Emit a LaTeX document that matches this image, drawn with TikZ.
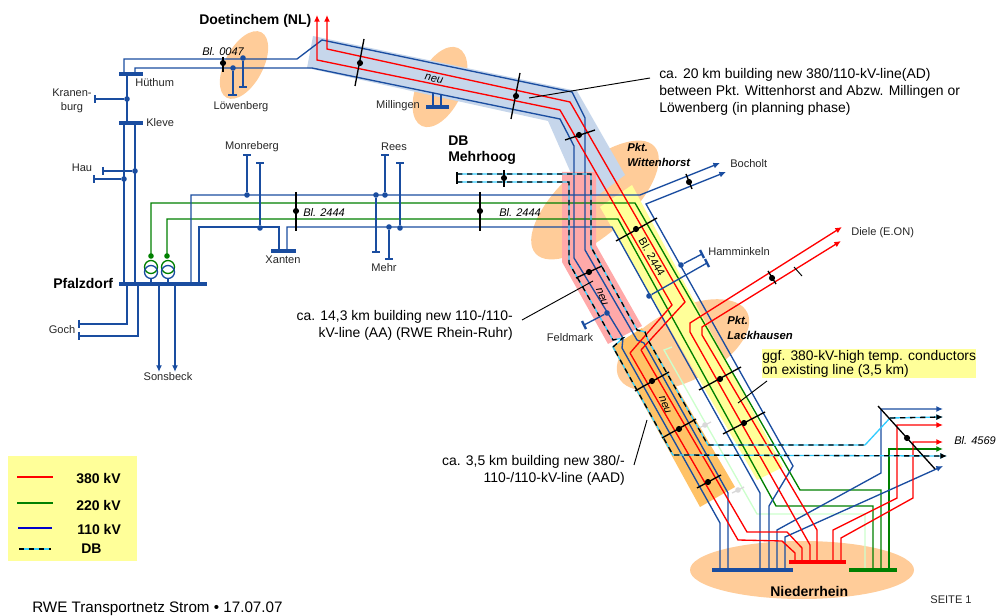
\documentclass[tikz,border=0pt]{standalone}
\usepackage{fontspec}
\setmainfont{Liberation Sans}
\usetikzlibrary{arrows.meta, positioning, shapes.geometric}
\definecolor{rweBlue}{HTML}{1A4DA0}
\definecolor{rweRed}{HTML}{FF0000}
\definecolor{rweGreen}{HTML}{008000}
\definecolor{rweLight}{HTML}{CCFFCC}
\definecolor{rweCyan}{HTML}{33CCFF}
\definecolor{bandBlue}{HTML}{C6D6EB}
\definecolor{bandPink}{HTML}{FFA9A9}
\definecolor{bandOrange}{HTML}{FFC266}
\definecolor{bandYellow}{HTML}{FFFF99}
\definecolor{blobOrange}{HTML}{FFCC99}
\tikzset{
  blob/.style={ellipse, fill=blobOrange, inner sep=0pt},
  lbl/.style={inner sep=0pt, text=black!85, font=\fontsize{8.3}{10}\selectfont},
  blk/.style={inner sep=0pt, align=left, font=\fontsize{10.45}{12.8}\selectfont},
  blkr/.style={inner sep=0pt, align=right, font=\fontsize{10.45}{12.8}\selectfont},
  head/.style={inner sep=0pt, align=left, font=\fontsize{10.5}{13}\selectfont\bfseries},
  pkt/.style={inner sep=0pt, align=left, font=\fontsize{8.5}{11.2}\selectfont\bfseries\itshape},
  blname/.style={inner sep=0pt, font=\fontsize{8.3}{10}\selectfont\itshape},
  kv380/.style={draw=rweRed, line width=1pt},
  kv220/.style={draw=rweGreen, line width=1pt},
  kv110/.style={draw=rweBlue, line width=1pt},
  kvold/.style={draw=rweLight, line width=1pt},
  kvdb/.style={draw=rweCyan, line width=1pt, postaction={draw=black, dash pattern=on 4pt off 3.5pt}},
  tip/.style={-{Latex[length=5pt,width=4.5pt]}},
  tbar/.style={draw=rweBlue, line width=1.7pt},
  bus/.style={line width=2.4pt},
  jnt/.style={circle, fill=#1, inner sep=0pt, minimum size=4.2pt},
  crossln/.style={draw=black, line width=1pt},
  leader/.style={draw=black, line width=.7pt},
}
\begin{document}
\begin{tikzpicture}[x=0.75pt, y=-0.75pt]
    \useasboundingbox (0,0) rectangle (996,616);
    \node[blob, minimum width=55.5pt, minimum height=28.5pt, rotate=62] (blobLoewenberg) at (244,65) {};
    \node[blob, minimum width=64.5pt, minimum height=34pt, rotate=65] (blobMillingen) at (440,87) {};
    \node[blob, minimum width=120pt, minimum height=52pt, rotate=42] (blobWittenhorst) at (595,200) {};
    \node[blob, minimum width=108pt, minimum height=54pt, rotate=27] (blobLackhausen) at (683,345) {};
    \node[blob, minimum width=168pt, minimum height=43.5pt] (blobNiederrhein) at (802,570) {};
    \fill[bandBlue] (313,36) -- (577,91) -- (625,175) -- (585,205) -- (548,121) -- (307,68) -- cycle;
    \fill[bandPink] (562,172) -- (596,172) -- (596,245) -- (642,326) -- (608,344) -- (562,262) -- cycle;
    \fill[bandYellow] (600,207) -- (632,185) -- (783,467) -- (757,480) -- cycle;
    \fill[bandOrange] (612,347) -- (642,328) -- (735,487) -- (700,507) -- cycle;
    \fill[bandYellow] (8,456) rectangle (137,561);
    \fill[bandYellow] (762,349) rectangle (976,378);

    \draw[kvold] (672,347) -- (664,350) -- (757,514) -- (865,514) -- (865,570);
    \foreach \gx/\gy in {705/425, 738/490} {
      \draw[black!15, line width=1pt] (\gx-6,\gy+3) -- (\gx+6,\gy-3);
      \node[jnt=black!15] (grey\gx) at (\gx,\gy) {};
    }

    \draw[kv220] (151,256) -- (151,203) -- (635,203) -- (800,490) -- (881,490) -- (881,570);
    \draw[kv220] (167,256) -- (167,219) -- (618,219) -- (776,506) -- (873,506) -- (873,570);
    \draw[kv220, tip] (889,570) -- (889,449) -- (943,449);

    \draw[kv110] (124,284) -- (124,123);
    \draw[kv110] (135,284) -- (135,123);
    \draw[kv110] (127,123) -- (127,74);
    \draw[kv110] (124,74) -- (124,59) -- (297,59) -- (322,40) -- (572,92) -- (585,118) -- (585,250) -- (637,340) -- (644,343) -- (728,493) -- (728,570);
    \draw[kv110] (135,74) -- (135,68) -- (312,68) -- (560,119) -- (574,146) -- (574,258) -- (623,338) -- (622,348) -- (720,523) -- (720,570);
    \draw[kv110, tip] (191,284) -- (191,195) -- (640,195) -- (720,163);
    \draw[kv110] (199,284) -- (199,227) -- (279,227) -- (279,251);
    \draw[kv110] (287,251) -- (287,227) -- (612,227) -- (760,493) -- (760,570);
    \draw[kv110, tip] (769,570) -- (769,506) -- (793,466) -- (646,204) -- (726,172);
    \draw[kv110, tip] (777,570) -- (777,530) -- (881,473) -- (881,409) -- (943,409);
    \draw[kv110, tip] (785,570) -- (785,537) -- (943,466);
    \draw[kv110] (127,284) -- (127,324) -- (79,324);
    \draw[kv110] (138,284) -- (138,336) -- (79,336);
    \draw[kv110, tip] (159,284) -- (159,372);
    \draw[kv110, tip] (175,284) -- (175,372);
    \draw[kv110] (433,93) -- (433,107);
    \draw[kv110] (441,95) -- (441,107);

    \draw[kv380, tip] (630,353) -- (672,305) -- (560,110) -- (317,60) -- (317,15);
    \draw[kv380, tip] (641,350) -- (685,302) -- (570,102) -- (327,49) -- (327,15);
    \draw[kv380] (630,353) -- (738,540) -- (782,541) -- (795,553) -- (795,562);
    \draw[kv380] (641,350) -- (747,532) -- (787,532) -- (802,548) -- (802,562);
    \draw[kv380, tip] (810,562) -- (810,545) -- (690,332) -- (690,323) -- (842,227);
    \draw[kv380, tip] (817,562) -- (817,530) -- (702,335) -- (702,327) -- (841,241);
    \draw[kv380, tip] (833,562) -- (833,530) -- (897,498) -- (897,425) -- (943,425);
    \draw[kv380, tip] (841,562) -- (841,538) -- (913,498) -- (913,442) -- (943,442);

    \draw[kvdb] (457,174) -- (591,174) -- (591,247) -- (637,330) -- (645,332) -- (648,340) -- (708,445) -- (865,445);
    \draw[draw=rweCyan, line width=1pt] (865,445) -- (890,418);
    \draw[kvdb, tip] (890,418) -- (943,417);
    \draw[kvdb, tip] (457,182) -- (569,182) -- (569,263) -- (613,340) -- (623,338) -- (613,347) -- (673,455) -- (947,456);
    \draw[draw=black, line width=1pt] (457,172) -- (457,184);

    \draw[rweBlue, bus] (119,74) -- (143,74);
    \draw[rweBlue, bus] (119,123) -- (143,123);
    \draw[rweBlue, bus] (119,284) -- (207,284);
    \draw[rweBlue, bus] (271,251) -- (296,251);
    \draw[rweBlue, bus] (426,107) -- (449,107);
    \draw[rweBlue, bus] (712,570) -- (793,570);
    \draw[rweRed, bus] (789,562) -- (846,562);
    \draw[rweGreen, bus] (849,570) -- (897,570);

    \foreach \nm/\dx/\dy/\ex/\ey/\ax/\ay/\bx/\by in {
      kranenburg/127/99/95/99/95/95/95/103,
      haua/135/171/103/171/103/167/103/175,
      haub/124/179/94/179/94/175/94/183,
      loewa/243/58/243/87/239/87/247/87,
      loewb/233/68/233/95/228/95/237/95,
      monra/247/195/247/155/243/155/251/155,
      monrb/260/228/260/163/256/163/264/163,
      reesa/385/195/385/155/381/155/389/155,
      reesb/400/228/400/163/396/163/404/163,
      mehra/376/195/376/252/372/252/380/252,
      mehrb/389/227/389/259/385/259/393/259,
      hammina/681/265/702/254/700/250/704/258,
      hamminb/649/296/707/263/705/259/709/267,
      feldmark/607/313/584/325/582/321/586/329} {
      \node[jnt=rweBlue] (\nm) at (\dx,\dy) {};
      \coordinate (\nm end) at (\ex,\ey);
      \draw[kv110] (\nm) -- (\nm end);
      \draw[tbar] (\ax,\ay) -- (\bx,\by);
    }
    \draw[tbar] (79,320) -- (79,328);
    \draw[tbar] (79,332) -- (79,340);
    \node[jnt=rweGreen] (trafoA) at (151,256) {};
    \node[jnt=rweGreen] (trafoB) at (167,256) {};
    \foreach \tx in {151,168} {
      \draw[rweGreen, line width=1pt] (\tx,267) circle (6.5);
      \draw[rweBlue, line width=1pt] (\tx,272) circle (6.5);
      \draw[kv110] (\tx,278) -- (\tx,284);
    }

    \foreach \nm/\xa/\ya/\xb/\yb/\xd/\yd in {
      blA/223/57/223/72/223/63,
      blB/296/192/296/231/296/211,
      blC/480/192/480/231/480/211,
      neuA/364/39/355/86/360/63,
      neuB/520/73/511/119/516/96,
      neuC/565/140/595/130/579/135,
      mehrhoog/504/170/504/187/504/178,
      wittA/616/241/657/218/636/229,
      bochA/686/174/692/189/689/182,
      rrA/576/278/602/266/589/272,
      aadA/635/391/669/372/652/381,
      aadB/662/438/696/419/679/429,
      aadC/697/488/721/475/708/482,
      lackA/699/390/741/367/720/379,
      lackB/723/434/765/412/744/423,
      dieleA/768/271/776/284/772/278,
      blD/878/406/935/469/907/438} {
      \draw[crossln] (\xa,\ya) -- (\xb,\yb);
      \node[jnt=black, minimum size=4.6pt] (cross\nm) at (\xd,\yd) {};
    }
    \draw[leader] (794,267) -- (802,276);
    \draw[leader] (529,98) -- (650,78);
    \draw[leader] (522,320) -- (593,281);
    \draw[leader] (634,465) -- (647,420);
    \draw[leader] (738,403) -- (767,381);

    \draw[rweRed, line width=1pt] (17,477) -- (53,477);
    \draw[rweGreen, line width=1pt] (17,503) -- (53,503);
    \draw[draw=blue!80!black, line width=1pt] (18,528) -- (52,528);
    \draw[kvdb] (19,549) -- (51,549);

    \node[head, anchor=west] (tDoetinchem) at (199,21) {Doetinchem (NL)};
    \node[head, anchor=west] (tDb) at (448,141) {DB};
    \node[head, anchor=west] (tMehrhoog) at (448,158) {Mehrhoog};
    \node[head, anchor=west] (tPfalzdorf) at (53,283) {Pfalzdorf};
    \node[head, anchor=west] (tNiederrhein) at (770,591) {Niederrhein};
    \node[head, anchor=west] (t380) at (76,479) {380 kV};
    \node[head, anchor=west] (t220) at (76,505) {220 kV};
    \node[head, anchor=west] (t110) at (77,529) {110 kV};
    \node[head, anchor=west] (tDbLegend) at (81,549) {DB};

    \node[lbl, anchor=west] (tHuethum) at (135,83) {Hüthum};
    \node[lbl, anchor=west] (tKleve) at (146,123) {Kleve};
    \node[lbl, align=center] (tKranenburg) at (72,101) {Kranen-\\burg};
    \node[lbl] (tHau) at (82,168) {Hau};
    \node[lbl] (tLoewenberg) at (241,107) {Löwenberg};
    \node[lbl] (tMonreberg) at (252,147) {Monreberg};
    \node[lbl] (tRees) at (394,147) {Rees};
    \node[lbl] (tMillingen) at (398,106) {Millingen};
    \node[lbl] (tXanten) at (283,260) {Xanten};
    \node[lbl] (tMehr) at (384,268) {Mehr};
    \node[lbl] (tGoch) at (62,330) {Goch};
    \node[lbl] (tSonsbeck) at (168,377) {Sonsbeck};
    \node[lbl] (tFeldmark) at (570,338) {Feldmark};
    \node[lbl, anchor=west] (tBocholt) at (730,164) {Bocholt};
    \node[lbl, anchor=west] (tHamminkeln) at (708,252) {Hamminkeln};
    \node[lbl, anchor=west] (tDiele) at (851,233) {Diele (E.ON)};
    \node[lbl] (tSeite) at (951,600) {SEITE 1};

    \node[pkt, anchor=west] (tWittenhorst) at (627,155) {Pkt.\\Wittenhorst};
    \node[pkt, anchor=west] (tLackhausen) at (727,328) {Pkt.\\Lackhausen};

    \node[blname, anchor=west] (tBlA) at (202,52) {Bl. 0047};
    \node[blname, anchor=west] (tBlB) at (303,212) {Bl. 2444};
    \node[blname, anchor=west] (tBlC) at (499,212) {Bl. 2444};
    \node[blname, anchor=west] (tBlD) at (954,441) {Bl. 4569};
    \node[blname, rotate=-60, font=\fontsize{8.3}{10}\selectfont] (tBlE) at (652,257) {Bl. 2444};
    \node[blname, rotate=-12] (tNeuA) at (434,79) {neu};
    \node[blname, rotate=-68] (tNeuB) at (602,297) {neu};
    \node[blname, rotate=-68] (tNeuC) at (665,405) {neu};

    \node[blk, anchor=north west] (tAd) at (659,68) {ca. 20 km building new 380/110-kV-line(AD)\\between Pkt. Wittenhorst and Abzw. Millingen or\\Löwenberg (in planning phase)};
    \node[blkr, anchor=east] (tAa) at (513,325) {ca. 14,3 km building new 110-/110-\\kV-line (AA) (RWE Rhein-Ruhr)};
    \node[blkr, anchor=east] (tAad) at (625,470) {ca. 3,5 km building new 380/-\\110-/110-kV-line (AAD)};
    \node[blk, anchor=west, font=\fontsize{10.4}{10.5}\selectfont] (tGgf) at (762,364) {ggf. 380-kV-high temp. conductors\\on existing line (3,5 km)};
    \node[blk, anchor=west, font=\fontsize{11.4}{13}\selectfont] (tFooter) at (32,609) {RWE Transportnetz Strom • 17.07.07};
\end{tikzpicture}
\end{document}
